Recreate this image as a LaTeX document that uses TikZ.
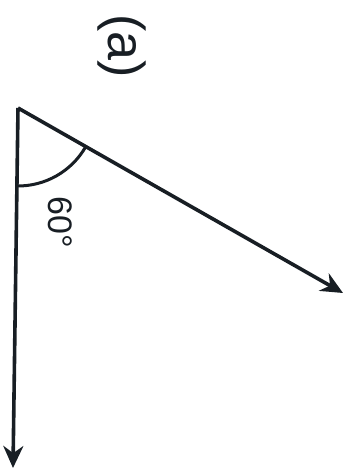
\documentclass[tikz,border=0pt]{standalone}
\usepackage{fontspec}
\setmainfont{Liberation Sans}
\usetikzlibrary{arrows.meta,calc}
\definecolor{Ink}{RGB}{24,30,36}
\tikzset{
  ray/.style={-{Stealth[length=11pt,width=10pt]},Ink,line width=1.8pt},
  angarc/.style={Ink,line width=1.5pt},
  tag/.style={font=\fontsize{26}{28}\selectfont,text=Ink,rotate=-90,inner sep=0pt},
  anglbl/.style={font=\fontsize{17}{19}\selectfont,text=Ink,rotate=-90,inner sep=0pt},
}
\begin{document}
\begin{tikzpicture}[x=0.5pt,y=-0.5pt]
    \useasboundingbox (0,0) rectangle (354,470);
    \coordinate (vtx) at (18,108);
    \coordinate (tipA) at (343,293);
    \coordinate (tipB) at (13,468);
    % rays
    \draw[ray] (vtx) -- (tipA);
    \draw[ray] (vtx) -- (tipB);
    % angle mark
    \draw[angarc] ([shift={(29.65:78)}]vtx) arc[start angle=29.65,end angle=90.8,radius=78];
    \node[anglbl] (ang) at (60,222) {60°};
    \node[tag] (lbl) at (122,46) {(a)};
\end{tikzpicture}
\end{document}
